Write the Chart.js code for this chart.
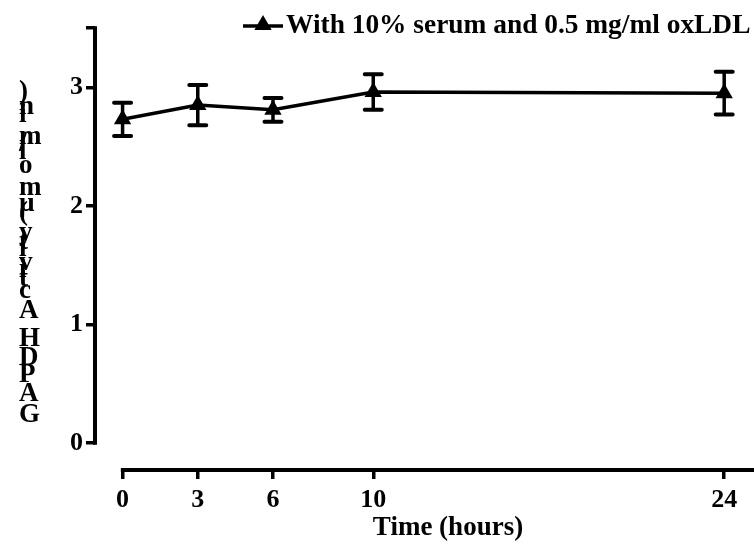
<!DOCTYPE html>
<html>
<head>
<meta charset="utf-8">
<script src="https://cdn.jsdelivr.net/npm/chart.js@4.4.0/dist/chart.umd.min.js"></script>
<style>
  body { margin: 0; background: #fff; }
</style>
</head>
<body>
<canvas id="gapdh" width="754" height="547"></canvas>
<script>
// values
var hours = [0, 3, 6, 10, 24];
var activity = [2.73, 2.85, 2.81, 2.96, 2.95];
var sem = [0.14, 0.17, 0.10, 0.15, 0.18];
var xTicks = [0, 3, 6, 10, 24];
var yTicks = [0, 1, 2, 3];
var seriesName = 'With 10% serum and 0.5 mg/ml oxLDL';
var yTitle = 'GAPDH Activity (\u00b5mol/min)';
var xTitle = 'Time (hours)';

var serif = '"Liberation Serif", "Times New Roman", serif';
var tickFont = { family: serif, size: 26, weight: 'bold' };

function triangle(ctx, x, y, r) {
    ctx.beginPath();
    ctx.moveTo(x, y - r);
    ctx.lineTo(x + r * Math.sin(2 * Math.PI / 3), y + r / 2);
    ctx.lineTo(x - r * Math.sin(2 * Math.PI / 3), y + r / 2);
    ctx.closePath();
    ctx.fill();
}

// Prism-style detached axes, error bars, titles and legend
var prismBits = {
    id: 'prismBits',
    beforeDatasetsDraw: function (chart) {
        var ctx = chart.ctx, xs = chart.scales.x, ys = chart.scales.y, a = chart.chartArea;
        ctx.save();
        ctx.strokeStyle = '#000';
        ctx.lineWidth = 4;
        // y axis line from 0 up to the top
        ctx.beginPath();
        ctx.moveTo(a.left, ys.getPixelForValue(0) + 1.75);
        ctx.lineTo(a.left, ys.getPixelForValue(3.5) - 1.75);
        ctx.stroke();
        // x axis line from 0 to the edge
        ctx.beginPath();
        ctx.moveTo(xs.getPixelForValue(0) - 1.75, a.bottom);
        ctx.lineTo(chart.width, a.bottom);
        ctx.stroke();

        // error bars
        for (var i = 0; i < hours.length; i++) {
            var px = xs.getPixelForValue(hours[i]);
            var top = ys.getPixelForValue(activity[i] + sem[i]);
            var bot = ys.getPixelForValue(activity[i] - sem[i]);
            ctx.lineWidth = 3.5;
            ctx.lineCap = 'butt';
            ctx.beginPath();
            ctx.moveTo(px, top);
            ctx.lineTo(px, bot);
            ctx.stroke();
            ctx.lineCap = 'round';
            ctx.lineWidth = 4;
            ctx.beginPath();
            ctx.moveTo(px - 8.5, top); ctx.lineTo(px + 8.5, top);
            ctx.moveTo(px - 8.5, bot); ctx.lineTo(px + 8.5, bot);
            ctx.stroke();
        }
        ctx.restore();
    },
    afterDraw: function (chart) {
        var ctx = chart.ctx;
        ctx.save();
        ctx.fillStyle = '#000';
        ctx.strokeStyle = '#000';
        ctx.font = 'bold 27px ' + serif;
        ctx.textBaseline = 'alphabetic';

        // y title: upright glyphs stacked along the rotated baseline
        ctx.textAlign = 'left';
        var start = 422;
        for (var i = 0; i < yTitle.length; i++) {
            var ch = yTitle[i];
            if (ch === ' ') continue;
            var off = ctx.measureText(yTitle.slice(0, i)).width;
            ctx.fillText(ch, 19, start - off);
        }

        // x title
        ctx.textAlign = 'center';
        ctx.fillText(xTitle, 448, 535);

        // legend
        ctx.lineWidth = 3.5;
        ctx.beginPath();
        ctx.moveTo(243, 26);
        ctx.lineTo(283, 26);
        ctx.stroke();
        triangle(ctx, 263, 25, 10);
        ctx.textAlign = 'left';
        ctx.font = 'bold 27.4px ' + serif;
        ctx.fillText(seriesName, 286, 33);
        ctx.restore();
    }
};

var ctx = document.getElementById('gapdh').getContext('2d');
var chart = new Chart(ctx, {
    type: 'line',
    data: {
        datasets: [{
            label: seriesName,
            data: hours.map(function (h, i) { return { x: h, y: activity[i] }; }),
            borderColor: '#000',
            backgroundColor: '#000',
            borderWidth: 3.5,
            pointStyle: 'triangle',
            pointRadius: 10,
            pointBorderWidth: 0,
            pointBackgroundColor: '#000',
            fill: false,
            tension: 0
        }]
    },
    options: {
        responsive: false,
        animation: false,
        layout: { padding: { top: 28, right: 0, left: 0, bottom: 0 } },
        plugins: {
            legend: { display: false },
            tooltip: { enabled: false }
        },
        scales: {
            x: {
                type: 'linear',
                min: -1.1,
                max: 24.79,
                afterBuildTicks: function (s) { s.ticks = xTicks.map(function (v) { return { value: v }; }); },
                afterFit: function (s) { s.height = 77; },
                border: { display: false },
                grid: { drawOnChartArea: false, drawTicks: true, tickLength: 9, color: '#000', lineWidth: 3.5 },
                ticks: { font: tickFont, color: '#000', padding: 6, maxRotation: 0, autoSkip: false }
            },
            y: {
                min: -0.228,
                max: 3.5,
                afterBuildTicks: function (s) { s.ticks = yTicks.concat([3.5]).map(function (v) { return { value: v }; }); },
                afterFit: function (s) { s.width = 95; },
                border: { display: false },
                grid: { drawOnChartArea: false, drawTicks: true, tickLength: 9, color: '#000', lineWidth: 3.5 },
                ticks: {
                    font: tickFont, color: '#000', padding: 3, autoSkip: false,
                    callback: function (v) { return yTicks.indexOf(v) >= 0 ? String(v) : ''; }
                }
            }
        }
    },
    plugins: [prismBits]
});
</script>
</body>
</html>
